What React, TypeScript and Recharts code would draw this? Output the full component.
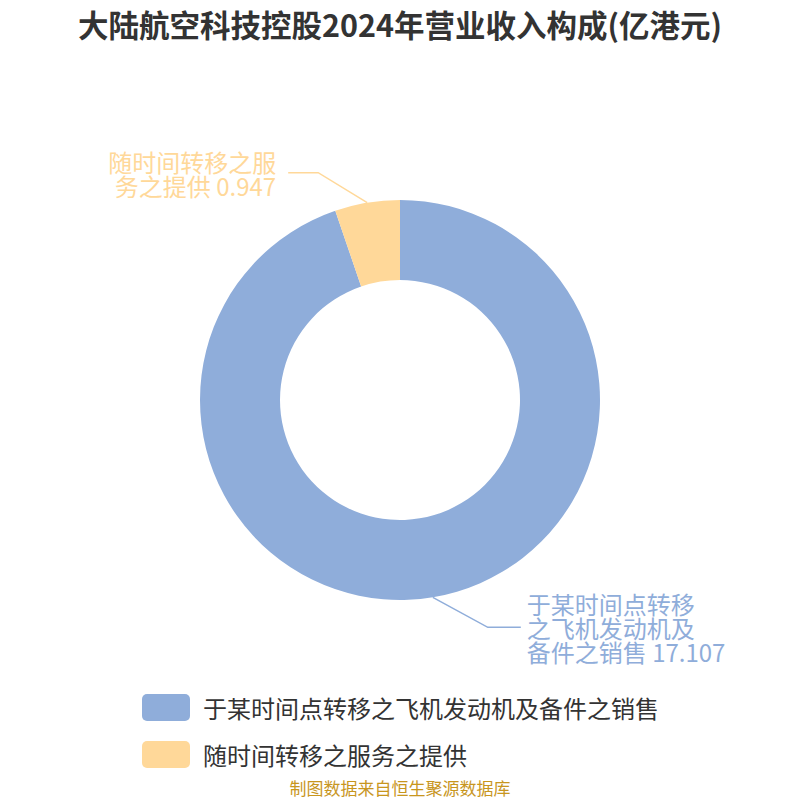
import React from "react";
import { PieChart, Pie, Cell, Legend } from "recharts";

const segments = ["于某时间点转移之飞机发动机及备件之销售", "随时间转移之服务之提供"];
const revenue = [17.107, 0.947];
const labelLines = [
  ["于某时间点转移", "之飞机发动机及", "备件之销售 17.107"],
  ["随时间转移之服", "务之提供 0.947"],
];
const COLORS = ["#8FADDA", "#FFD899"];
const FONT = "'Noto Sans CJK SC', 'Noto Sans', sans-serif";

const data = segments.map((name, i) => ({ name, value: revenue[i], lines: labelLines[i] }));

const RAD = Math.PI / 180;

const renderLabel = (props: any) => {
  const { cx, cy, midAngle, outerRadius, index } = props;
  const color = COLORS[index % COLORS.length];
  const cos = Math.cos(-midAngle * RAD);
  const sin = Math.sin(-midAngle * RAD);
  const sx = cx + outerRadius * cos;
  const sy = cy + outerRadius * sin;
  const right = cos >= 0;
  const down = sin >= 0;
  const mx = sx + (right ? 55 : -49);
  const my = sy + (down ? 30 : -30);
  const ex = mx + (right ? 33 : -30);
  const lines: string[] = data[index].lines;
  const lh = 24;
  const tx = ex + (right ? 6 : -12);
  const firstY = my - ((lines.length - 1) * lh) / 2;
  return (
    <g>
      <polyline points={`${sx},${sy} ${mx},${my} ${ex},${my}`} fill="none" stroke={color} strokeWidth={1.5} />
      <text
        x={tx}
        y={firstY}
        fill={color}
        fontSize={24}
        fontFamily={FONT}
        textAnchor={right ? "start" : "end"}
        dominantBaseline="central"
      >
        {lines.map((l, i) => (
          <tspan key={i} x={tx} y={firstY + i * lh}>
            {l}
          </tspan>
        ))}
      </text>
    </g>
  );
};

const LegendContent = () => (
  <div style={{ fontFamily: FONT }}>
    {segments.map((name, i) => (
      <div key={name} style={{ display: "flex", alignItems: "center", height: 27, marginBottom: 20 }}>
        <span
          style={{
            width: 48,
            height: 27,
            borderRadius: 5,
            background: COLORS[i],
            display: "inline-block",
            marginRight: 13,
          }}
        />
        <span style={{ fontSize: 24, color: "#333" }}>{name}</span>
      </div>
    ))}
  </div>
);

export default function App() {
  return (
    <div style={{ position: "absolute", left: 0, top: 0, width: 800, height: 800, background: "#fff", overflow: "hidden" }}>
      <div
        style={{
          position: "absolute",
          top: 4,
          width: 800,
          textAlign: "center",
          fontFamily: FONT,
          fontWeight: "bold",
          fontSize: 30.5,
          lineHeight: "40px",
          color: "#333",
        }}
      >
        大陆航空科技控股2024年营业收入构成(亿港元)
      </div>
      <PieChart width={800} height={800} margin={{ top: 0, right: 0, bottom: 0, left: 0 }}>
        <Pie
          data={data}
          dataKey="value"
          nameKey="name"
          cx={400}
          cy={400}
          innerRadius={120}
          outerRadius={200}
          startAngle={90}
          endAngle={-270}
          stroke="none"
          label={renderLabel}
          labelLine={false}
          isAnimationActive={false}
        >
          {data.map((_, i) => (
            <Cell key={i} fill={COLORS[i % COLORS.length]} />
          ))}
        </Pie>
        <Legend
          content={<LegendContent />}
          layout="vertical"
          wrapperStyle={{ position: "absolute", left: 142, top: 694, width: 600, bottom: "auto" }}
        />
      </PieChart>
      <div
        style={{
          position: "absolute",
          top: 778,
          width: 800,
          textAlign: "center",
          fontFamily: FONT,
          fontSize: 17,
          lineHeight: "20px",
          color: "#C8961E",
        }}
      >
        制图数据来自恒生聚源数据库
      </div>
    </div>
  );
}
